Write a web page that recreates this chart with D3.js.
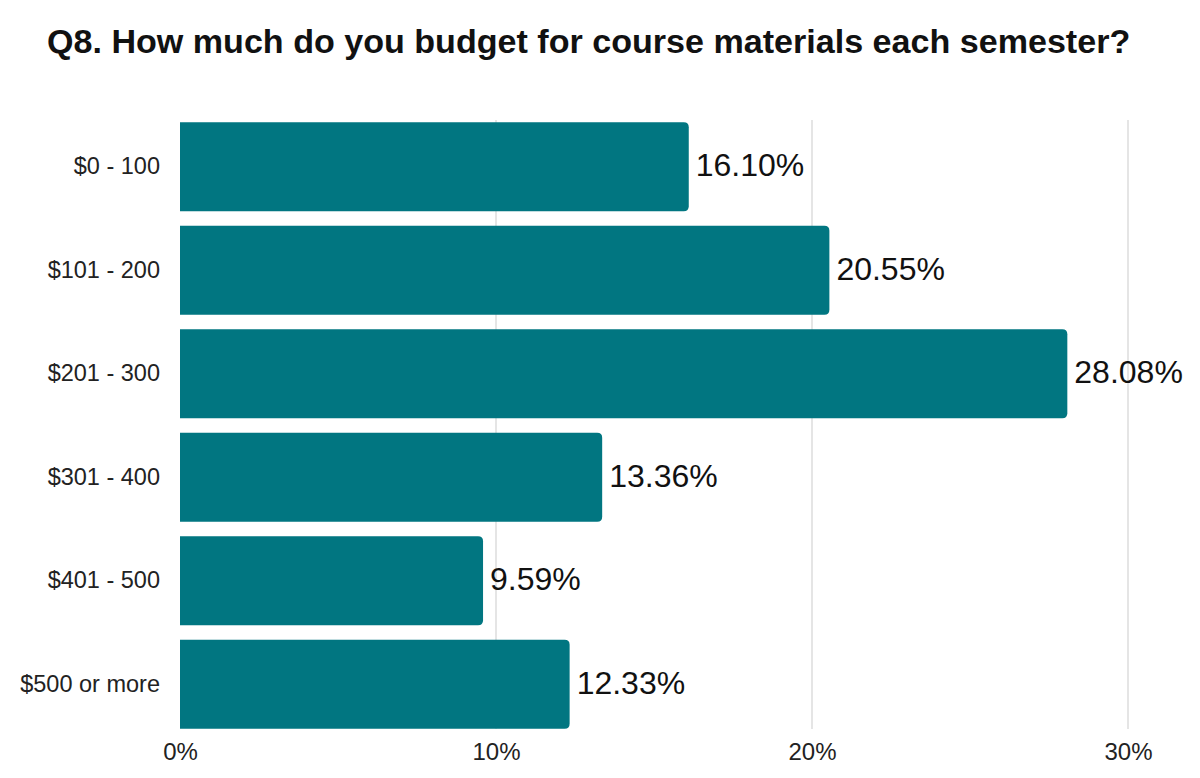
<!DOCTYPE html>
<html>
<head>
<meta charset="utf-8">
<script src="https://cdn.jsdelivr.net/npm/d3@7"></script>
<style>
  body { margin: 0; background: #fff; }
  text { font-family: "Liberation Sans", Arial, sans-serif; }
</style>
</head>
<body>
<svg id="chart" width="1200" height="778"></svg>
<script>
// data
var categories = ["$0 - 100", "$101 - 200", "$201 - 300", "$301 - 400", "$401 - 500", "$500 or more"];
var shares = [16.10, 20.55, 28.08, 13.36, 9.59, 12.33];
var tickValues = [0, 10, 20, 30];

var svg = d3.select("#chart");
var barColor = "#017681";

svg.append("text")
  .attr("x", 47)
  .attr("y", 53)
  .attr("font-size", 34.1)
  .attr("font-weight", "bold")
  .attr("fill", "#111")
  .text("Q8. How much do you budget for course materials each semester?");

var x = d3.scaleLinear().domain([0, 30]).range([180, 1128]);
var y = d3.scaleBand().domain(categories).range([115, 736]).paddingInner(0.14).paddingOuter(0.07);

// gridlines
svg.append("g")
  .selectAll("line")
  .data(tickValues.slice(1))
  .join("line")
  .attr("x1", d => x(d))
  .attr("x2", d => x(d))
  .attr("y1", 120)
  .attr("y2", 729)
  .attr("stroke", "#d4d4d4")
  .attr("stroke-width", 1.2);

// x axis, just the labels
var xAxis = svg.append("g")
  .attr("transform", "translate(0,743)")
  .call(d3.axisBottom(x).tickValues(tickValues).tickFormat(d => d + "%").tickSize(0).tickPadding(0));
xAxis.select(".domain").remove();
xAxis.selectAll("text")
  .attr("font-size", 24)
  .attr("fill", "#222")
  .style("font-family", "Liberation Sans, Arial, sans-serif");

// y axis labels
var yAxis = svg.append("g")
  .attr("transform", "translate(160,0)")
  .call(d3.axisLeft(y).tickSize(0).tickPadding(0));
yAxis.select(".domain").remove();
yAxis.selectAll("text")
  .attr("font-size", 23.5)
  .attr("fill", "#222")
  .style("font-family", "Liberation Sans, Arial, sans-serif");

// bars with rounded right side
function barPath(x0, y0, w, h, r) {
  return "M" + x0 + "," + y0 +
    "H" + (x0 + w - r) +
    "Q" + (x0 + w) + "," + y0 + " " + (x0 + w) + "," + (y0 + r) +
    "V" + (y0 + h - r) +
    "Q" + (x0 + w) + "," + (y0 + h) + " " + (x0 + w - r) + "," + (y0 + h) +
    "H" + x0 + "Z";
}

svg.append("g")
  .selectAll("path")
  .data(categories)
  .join("path")
  .attr("d", (c, i) => barPath(x(0), y(c), x(shares[i]) - x(0), y.bandwidth(), 5))
  .attr("fill", barColor);

// value labels
svg.append("g")
  .selectAll("text")
  .data(categories)
  .join("text")
  .attr("x", (c, i) => x(shares[i]) + 7)
  .attr("y", c => y(c) + y.bandwidth() / 2)
  .attr("dy", "0.3em")
  .attr("font-size", 32)
  .attr("fill", "#111")
  .text((c, i) => shares[i].toFixed(2) + "%");
</script>
</body>
</html>
